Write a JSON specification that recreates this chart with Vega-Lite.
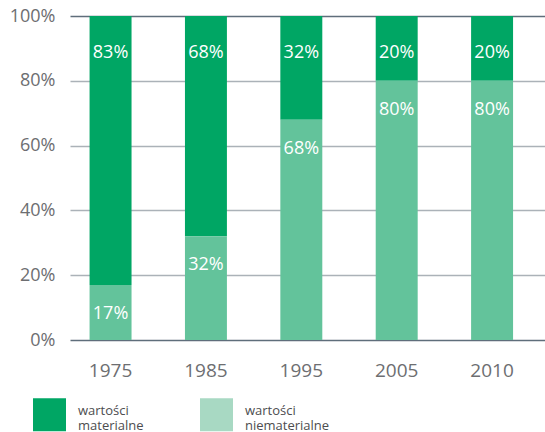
{
  "$schema": "https://vega.github.io/schema/vega-lite/v6.json",
  "autosize": "none",
  "width": 475,
  "height": 324,
  "padding": {"left": 70, "top": 16, "right": 0, "bottom": 92},
  "background": "white",
  "config": {"view": {"stroke": null}, "font": "Open Sans"},
  "data": {"values": [
    {"year": "1975", "category": "wartości materialne", "value": 0.83},
    {"year": "1975", "category": "wartości niematerialne", "value": 0.17},
    {"year": "1985", "category": "wartości materialne", "value": 0.68},
    {"year": "1985", "category": "wartości niematerialne", "value": 0.32},
    {"year": "1995", "category": "wartości materialne", "value": 0.32},
    {"year": "1995", "category": "wartości niematerialne", "value": 0.68},
    {"year": "2005", "category": "wartości materialne", "value": 0.20},
    {"year": "2005", "category": "wartości niematerialne", "value": 0.80},
    {"year": "2010", "category": "wartości materialne", "value": 0.20},
    {"year": "2010", "category": "wartości niematerialne", "value": 0.80}
  ]},
  "encoding": {
    "x": {"field": "year", "type": "nominal",
      "scale": {"paddingInner": 0.56, "paddingOuter": 0.27, "align": 0.38},
      "axis": {"title": null, "labelAngle": 0, "domain": false, "ticks": false, "labelPadding": 21,
        "labelFontSize": 19, "labelColor": "#6d6e71", "labelFont": "Open Sans"}}
  },
  "layer": [
    {
      "mark": {"type": "bar"},
      "encoding": {
        "y": {"field": "value", "type": "quantitative", "stack": "zero",
          "scale": {"domain": [0, 1]},
          "axis": {"title": null, "format": ".0%", "values": [0, 0.2, 0.4, 0.6, 0.8, 1],
            "domain": false, "ticks": false, "labelPadding": 15, "labelFontSize": 18,
            "labelColor": "#6d6e71", "labelFont": "Open Sans",
            "gridColor": {"condition": {"test": "datum.value === 0 || datum.value === 1", "value": "#5f6e7b"}, "value": "#abb2b8"},
            "gridWidth": 1.5}},
        "color": {"field": "category", "type": "nominal",
          "scale": {"domain": ["wartości materialne", "wartości niematerialne"], "range": ["#00a664", "#63c39b"]},
          "legend": null},
        "order": {"field": "category", "sort": "descending"}
      }
    },
    {
      "mark": {"type": "square", "opacity": 0},
      "encoding": {
        "y": {"field": "value", "type": "quantitative"},
        "color": {"field": "category", "type": "nominal",
          "scale": {"domain": ["wartości materialne", "wartości niematerialne"], "range": ["#00a664", "#a8d9c3"]},
          "legend": {"title": null, "orient": "none", "legendX": -37, "legendY": 382,
            "direction": "horizontal", "symbolType": "square", "symbolSize": 1089,
            "symbolStrokeWidth": 0, "symbolOpacity": 1, "labelOffset": 12, "columnPadding": 56,
            "labelFontSize": 13, "labelColor": "#4d4d4f", "labelFont": "Open Sans", "padding": 0,
            "labelBaseline": "alphabetic",
            "labelExpr": "split(datum.label, ' ')"}}
      }
    },
    {
      "transform": [{"filter": "datum.category === 'wartości materialne'"}],
      "mark": {"type": "text", "color": "white", "fontSize": 18, "baseline": "middle", "dy": 37, "font": "Open Sans"},
      "encoding": {
        "y": {"datum": 1, "type": "quantitative"},
        "text": {"field": "value", "type": "quantitative", "format": ".0%"}
      }
    },
    {
      "transform": [{"filter": "datum.category === 'wartości niematerialne'"}],
      "mark": {"type": "text", "color": "white", "fontSize": 18, "baseline": "middle", "dy": 29, "font": "Open Sans"},
      "encoding": {
        "y": {"field": "value", "type": "quantitative"},
        "text": {"field": "value", "type": "quantitative", "format": ".0%"}
      }
    }
  ],
  "resolve": {"scale": {"color": "independent"}, "legend": {"color": "independent"}}
}
